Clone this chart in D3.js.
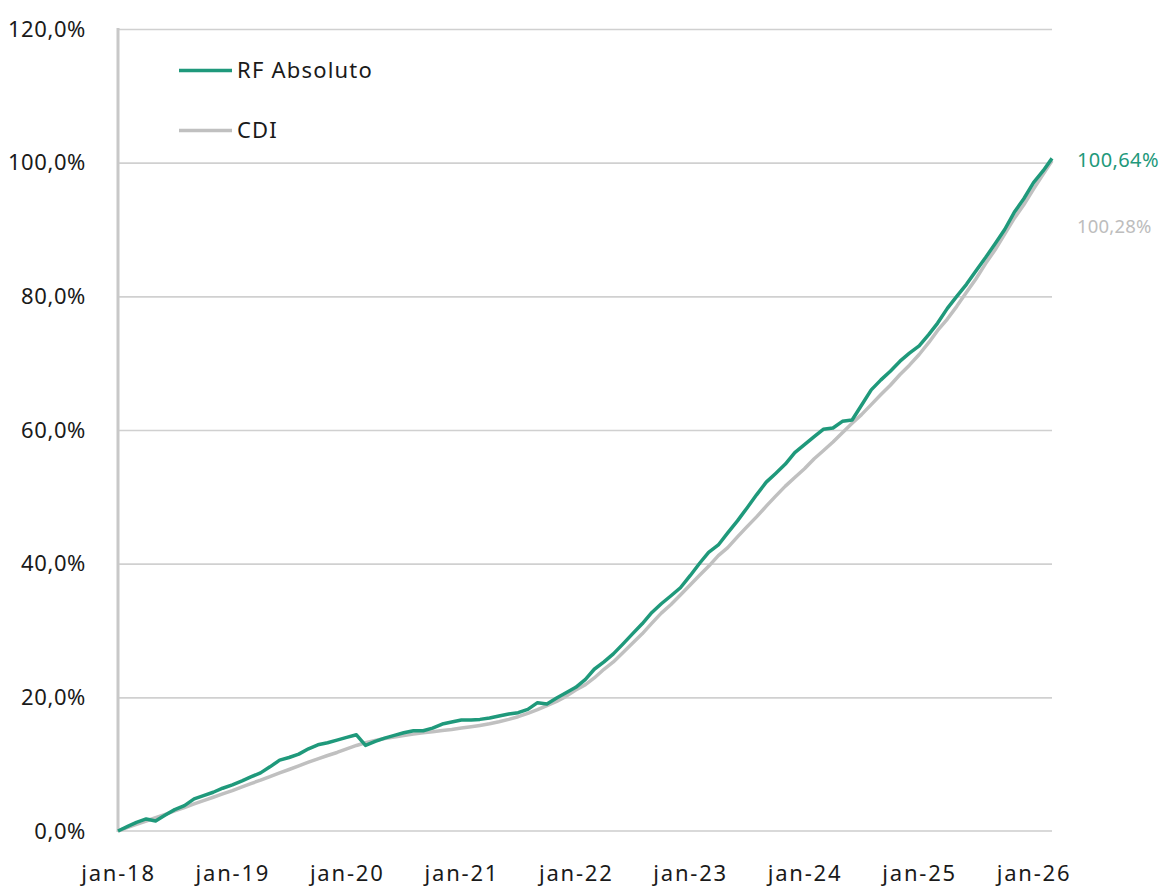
<!DOCTYPE html>
<html>
<head>
<meta charset="utf-8">
<script src="https://cdn.jsdelivr.net/npm/d3@7"></script>
<style>
  html, body { margin: 0; padding: 0; background: #fff; }
  svg { display: block; font-family: "Noto Sans", "Open Sans", sans-serif; }
</style>
</head>
<body>
<svg id="chart" width="1165" height="887"></svg>
<script>
// ---- DATA (cumulative return, %, first day of each month, Jan 2018 .. Mar 2026) ----
const seriesNames = ["RF Absoluto", "CDI"];
const rfAbsoluto = [
  0.0, 0.7, 1.3, 1.8, 1.5, 2.4, 3.2, 3.8, 4.8, 5.3, 5.8, 6.4,
  6.9, 7.5, 8.1, 8.7, 9.6, 10.6, 11.0, 11.5, 12.3, 12.9, 13.2, 13.6,
  14.0, 14.4, 12.8, 13.4, 13.9, 14.3, 14.7, 15.0, 15.0, 15.4, 16.0, 16.3,
  16.6, 16.6, 16.7, 16.9, 17.2, 17.5, 17.7, 18.2, 19.2, 19.0, 19.9, 20.7,
  21.5, 22.7, 24.2, 25.3, 26.5, 28.0, 29.5, 31.0, 32.7, 34.0, 35.2, 36.4,
  38.2, 40.1, 41.7, 42.8, 44.6, 46.4, 48.3, 50.3, 52.2, 53.5, 54.9, 56.6,
  57.8, 59.0, 60.1, 60.3, 61.3, 61.5, 63.7, 66.0, 67.5, 68.8, 70.3, 71.5,
  72.6, 74.3, 76.0, 78.2, 80.0, 81.8, 83.8, 85.8, 87.9, 90.0, 92.6, 94.6,
  97.0, 98.8, 100.64
];
const cdi = [
  0.0, 0.55, 1.0, 1.5, 2.0, 2.5, 3.0, 3.5, 4.05, 4.55, 5.05, 5.55,
  6.05, 6.6, 7.1, 7.6, 8.15, 8.7, 9.2, 9.75, 10.3, 10.8, 11.3, 11.75,
  12.3, 12.8, 13.2, 13.55, 13.85, 14.05, 14.3, 14.5, 14.7, 14.85, 15.05, 15.2,
  15.4, 15.6, 15.8, 16.05, 16.35, 16.7, 17.1, 17.6, 18.15, 18.75, 19.4, 20.15,
  21.1, 21.9, 22.9, 24.2, 25.3, 26.7, 28.1, 29.5, 31.1, 32.6, 33.9, 35.3,
  36.8, 38.3, 39.6, 41.2, 42.4, 44.0, 45.5, 47.0, 48.6, 50.1, 51.6, 52.9,
  54.2, 55.7, 56.9, 58.2, 59.6, 61.0, 62.3, 63.8, 65.3, 66.7, 68.3, 69.7,
  71.3, 73.1, 74.9, 76.6, 78.5, 80.6, 82.6, 84.9, 87.0, 89.3, 91.7, 93.7,
  96.05, 98.3, 100.28
];
const yTicks = [0, 20, 40, 60, 80, 100, 120];
const xTickYears = [2018, 2019, 2020, 2021, 2022, 2023, 2024, 2025, 2026];
const endLabels = ["100,64%", "100,28%"];

// dates: one per month
const dates = d3.timeMonth.range(new Date(2018, 0, 1), new Date(2026, 2, 2));

(function () {
  const GREEN = "#1f997b";
  const GREY = "#c0c0c0";
  const TEXT = "#1a1a1a";

  const svg = d3.select("#chart");
  const pL = 118, pR = 1052, pT = 29, pB = 831;

  const x = d3.scaleTime().domain([dates[0], dates[dates.length - 1]]).range([pL, pR]);
  const y = d3.scaleLinear().domain([0, 120]).range([pB, pT]);

  const fmtPct = v => d3.format(".1f")(v).replace(".", ",") + "%";

  // gridlines
  svg.append("g")
    .attr("transform", `translate(${pL},0)`)
    .call(d3.axisLeft(y).tickValues(yTicks.filter(v => v > 0)).tickSize(-(pR - pL)).tickFormat(""))
    .call(g => g.select(".domain").remove())
    .call(g => g.selectAll("line").attr("stroke", "#d0d0d0").attr("stroke-width", 1.6));

  // bottom baseline
  svg.append("line")
    .attr("x1", pL).attr("x2", pR).attr("y1", y(0)).attr("y2", y(0))
    .attr("stroke", "#d9d9d9").attr("stroke-width", 2);

  // left axis line
  svg.append("line")
    .attr("x1", pL).attr("x2", pL).attr("y1", y(120) - 1).attr("y2", y(0) + 1)
    .attr("stroke", "#c8c8c8").attr("stroke-width", 3);

  // y labels
  svg.append("g")
    .attr("transform", `translate(${pL},0)`)
    .call(d3.axisLeft(y).tickValues(yTicks).tickSize(0).tickPadding(32).tickFormat(fmtPct))
    .call(g => g.select(".domain").remove())
    .call(g => g.selectAll("text")
      .attr("fill", TEXT).attr("font-size", 22).attr("letter-spacing", 0.6)
      .attr("font-family", "'Noto Sans', sans-serif"));

  // x labels
  svg.append("g")
    .attr("transform", `translate(0,${pB})`)
    .call(d3.axisBottom(x)
      .tickValues(xTickYears.map(yr => new Date(yr, 0, 1)))
      .tickSize(0).tickPadding(34)
      .tickFormat(d => "jan-" + String(d.getFullYear()).slice(2)))
    .call(g => g.select(".domain").remove())
    .call(g => g.selectAll("text")
      .attr("fill", TEXT).attr("font-size", 22).attr("letter-spacing", 1.8)
      .attr("font-family", "'Noto Sans', sans-serif"));

  // lines
  const line = d3.line().x((d, i) => x(dates[i])).y(d => y(d));
  svg.append("path").datum(cdi)
    .attr("fill", "none").attr("stroke", GREY).attr("stroke-width", 3.5)
    .attr("stroke-linejoin", "round").attr("d", line);
  svg.append("path").datum(rfAbsoluto)
    .attr("fill", "none").attr("stroke", GREEN).attr("stroke-width", 3.5)
    .attr("stroke-linejoin", "round").attr("d", line);

  // end labels
  svg.append("text")
    .attr("x", 1077).attr("y", 167).attr("fill", GREEN)
    .attr("font-size", 20).attr("letter-spacing", 0.4).text(endLabels[0]);
  svg.append("text")
    .attr("x", 1077).attr("y", 233).attr("fill", "#bdbdbd")
    .attr("font-size", 18.5).attr("letter-spacing", 0.2).text(endLabels[1]);

  // legend
  const legend = svg.append("g");
  [[seriesNames[0], GREEN, 70.5], [seriesNames[1], GREY, 130.5]].forEach(([name, col, ly]) => {
    legend.append("line").attr("x1", 179).attr("x2", 232).attr("y1", ly).attr("y2", ly)
      .attr("stroke", col).attr("stroke-width", 3.5);
    legend.append("text").attr("x", 237).attr("y", ly + 7.5)
      .attr("fill", TEXT).attr("font-size", 22).attr("letter-spacing", 1.2).text(name);
  });
})();
</script>
</body>
</html>
